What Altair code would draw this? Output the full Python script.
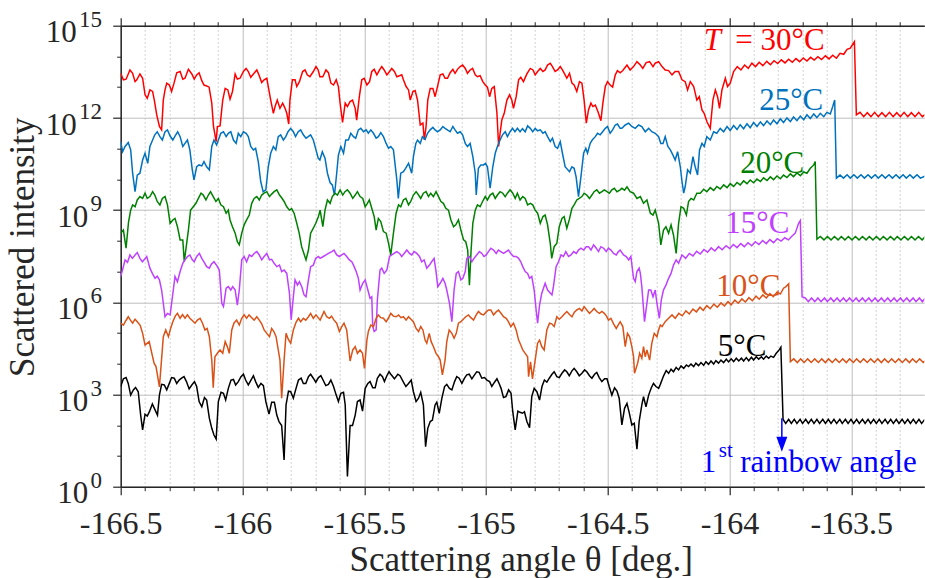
import altair as alt
import pandas as pd

# (scattering angle [deg], log10 of scattered intensity)
RED_30 = [
(-166.500,13.45),(-166.489,13.24),(-166.478,13.26),(-166.462,13.56),(-166.451,13.45),(-166.441,13.18),(-166.434,13.24),(-166.421,13.43),(-166.410,13.29),(-166.400,12.75),(-166.391,12.64),(-166.380,12.91),(-166.369,12.86),(-166.362,12.58),(-166.352,12.10),(-166.341,11.72),(-166.332,11.61),(-166.325,12.58),(-166.318,12.91),(-166.311,13.13),(-166.300,13.07),(-166.291,12.86),(-166.281,13.13),(-166.270,13.47),(-166.256,13.51),(-166.245,13.26),(-166.236,13.29),(-166.222,13.58),(-166.208,13.43),(-166.198,13.26),(-166.188,13.40),(-166.178,13.47),(-166.167,13.21),(-166.158,13.07),(-166.147,13.04),(-166.137,13.00),(-166.126,12.48),(-166.119,11.72),(-166.108,11.23),(-166.103,11.72),(-166.092,11.74),(-166.081,12.58),(-166.071,12.96),(-166.060,12.91),(-166.051,12.61),(-166.041,12.86),(-166.030,13.43),(-166.021,13.26),(-166.010,13.29),(-165.996,13.51),(-165.985,13.61),(-165.976,13.51),(-165.966,13.32),(-165.955,13.43),(-165.941,13.56),(-165.931,13.37),(-165.921,13.15),(-165.911,13.24),(-165.900,13.29),(-165.894,13.02),(-165.884,12.58),(-165.873,12.15),(-165.866,12.37),(-165.857,12.58),(-165.846,12.31),(-165.835,12.48),(-165.825,12.31),(-165.818,12.15),(-165.810,11.80),(-165.805,12.58),(-165.795,13.24),(-165.784,13.24),(-165.777,13.02),(-165.766,13.18),(-165.753,13.51),(-165.743,13.56),(-165.734,13.40),(-165.723,13.34),(-165.709,13.51),(-165.698,13.67),(-165.689,13.56),(-165.682,13.34),
(-165.670,13.34),(-165.657,13.56),(-165.647,13.47),(-165.637,13.13),(-165.626,13.07),(-165.615,13.24),(-165.606,13.02),(-165.599,12.48),(-165.589,11.85),(-165.578,12.48),(-165.569,12.37),(-165.558,12.53),(-165.548,12.58),(-165.537,12.31),(-165.531,11.93),(-165.520,12.69),(-165.510,13.24),(-165.500,13.29),(-165.489,13.07),(-165.478,13.18),(-165.469,13.51),(-165.459,13.58),(-165.448,13.40),(-165.437,13.56),(-165.428,13.67),(-165.418,13.56),(-165.407,13.40),(-165.396,13.51),(-165.387,13.61),(-165.376,13.51),(-165.366,13.34),(-165.355,13.37),(-165.346,13.40),(-165.339,13.24),(-165.328,13.02),(-165.318,12.91),(-165.311,12.58),(-165.300,12.86),(-165.291,12.89),(-165.281,12.58),(-165.270,11.77),(-165.259,11.83),(-165.253,11.28),(-165.246,11.72),(-165.239,12.58),(-165.229,12.96),(-165.218,12.96),(-165.209,12.69),(-165.199,13.02),(-165.188,13.40),(-165.177,13.43),(-165.168,13.29),(-165.158,13.29),(-165.147,13.47),(-165.136,13.58),(-165.127,13.45),(-165.117,13.58),(-165.106,13.67),(-165.096,13.72),(-165.085,13.61),(-165.076,13.45),(-165.065,13.56),(-165.055,13.61),(-165.044,13.40),(-165.035,13.34),(-165.024,13.37),(-165.013,13.18),(-165.003,13.07),(-164.994,13.00),(-164.985,12.69),(-164.976,12.96),(-164.966,13.02),(-164.955,12.15),(-164.948,11.07),(-164.942,11.50),(-164.935,11.93),(-164.925,12.15),(-164.914,12.58),(-164.903,12.75),(-164.894,12.58),(-164.887,12.31),(-164.876,12.69),(-164.866,13.24),(-164.857,13.32),(-164.846,13.18),(-164.832,13.43),(-164.818,13.61),(-164.807,13.56),(-164.798,13.40),(-164.788,13.51),(-164.777,13.61),(-164.766,13.51),(-164.757,13.56),(-164.747,13.72),(-164.736,13.78),(-164.727,13.67),(-164.716,13.51),(-164.706,13.56),(-164.695,13.67),(-164.686,13.56),(-164.675,13.40),(-164.668,13.29),(-164.657,13.45),(-164.647,13.13),(-164.638,13.07),(-164.627,12.86),(-164.616,13.18),(-164.606,13.13),(-164.597,12.58),(-164.588,11.83),(-164.579,12.26),(-164.569,12.48),(-164.561,12.37),(-164.551,12.42),(-164.540,12.20),(-164.528,11.91),(-164.520,12.48),(-164.510,13.02),(-164.501,13.18),(-164.490,13.07),(-164.480,13.00),(-164.469,13.40),(-164.460,13.54),(-164.449,13.47),
(-164.438,13.54),(-164.421,13.72),(-164.408,13.56),(-164.394,13.67),(-164.380,13.83),(-164.366,13.72),(-164.356,13.61),(-164.342,13.80),(-164.328,13.83),(-164.314,13.67),(-164.305,13.78),(-164.291,13.83),(-164.277,13.67),(-164.264,13.56),(-164.250,13.54),(-164.236,13.40),(-164.223,13.51),(-164.209,13.51),(-164.195,13.24),(-164.182,13.18),(-164.172,12.91),(-164.161,13.18),(-164.147,13.02),(-164.134,12.58),(-164.124,12.69),(-164.113,12.26),(-164.104,12.15),(-164.093,11.88),(-164.079,11.66),(-164.068,12.58),(-164.058,12.91),(-164.049,12.69),(-164.041,12.31),(-164.031,12.91),(-164.017,13.29),(-164.008,13.02),(-163.997,13.13),(-163.983,13.51),
(-163.968,13.67),(-163.953,13.56),(-163.938,13.72),(-163.923,13.61),(-163.908,13.78),(-163.893,13.67),(-163.878,13.81),(-163.863,13.70),(-163.847,13.84),(-163.832,13.73),(-163.817,13.86),(-163.802,13.77),(-163.787,13.89),(-163.772,13.79),(-163.757,13.91),(-163.742,13.81),(-163.727,13.93),(-163.712,13.83),(-163.697,13.95),(-163.682,13.85),(-163.667,13.97),(-163.652,13.88),(-163.637,13.99),(-163.622,13.90),(-163.606,14.02),(-163.591,13.92),(-163.576,14.04),(-163.561,13.94),(-163.546,14.10),(-163.531,14.07),(-163.517,14.23),(-163.504,14.27),(-163.487,14.48),
(-163.479,12.10),(-163.464,12.18),(-163.449,12.04),(-163.434,12.17),(-163.419,12.04),(-163.404,12.18),(-163.389,12.04),(-163.374,12.17),(-163.359,12.04),(-163.343,12.18),(-163.328,12.04),(-163.313,12.17),(-163.298,12.04),(-163.283,12.18),(-163.268,12.04),(-163.253,12.17),(-163.238,12.04),(-163.223,12.18),(-163.208,12.04),(-163.196,12.12)]

BLUE_25 = [
(-166.500,11.23),(-166.492,10.90),(-166.482,11.07),(-166.469,11.20),(-166.459,10.96),(-166.451,10.20),(-166.441,9.60),(-166.432,10.14),(-166.421,10.20),(-166.410,10.63),(-166.400,10.85),(-166.389,10.52),(-166.380,11.07),(-166.369,11.28),(-166.360,11.45),(-166.350,11.55),(-166.339,11.39),(-166.329,11.28),(-166.318,11.55),(-166.308,11.61),(-166.297,11.41),(-166.286,11.28),(-166.277,11.41),(-166.266,11.55),(-166.256,11.39),(-166.245,11.07),(-166.236,11.17),(-166.226,11.28),(-166.216,10.96),(-166.206,10.31),(-166.199,9.98),(-166.188,10.41),(-166.178,10.47),(-166.167,10.44),(-166.158,10.58),(-166.147,10.41),(-166.136,10.31),(-166.126,11.07),(-166.117,11.28),(-166.106,11.12),(-166.099,11.28),(-166.089,11.50),(-166.078,11.55),(-166.067,11.39),(-166.058,11.50),(-166.048,11.55),(-166.037,11.28),(-166.026,11.17),(-166.017,11.50),(-166.007,11.39),(-165.996,11.55),(-165.985,11.50),(-165.976,11.39),(-165.966,11.07),(-165.955,10.96),(-165.946,11.01),(-165.935,10.58),(-165.925,9.93),(-165.915,9.60),(-165.904,9.66),(-165.894,10.41),(-165.884,10.85),(-165.873,11.07),(-165.863,10.96),(-165.853,11.39),(-165.843,11.45),(-165.832,11.28),(-165.822,11.39),(-165.813,11.55),(-165.802,11.66),(-165.791,11.55),(-165.782,11.39),(-165.771,11.55),(-165.761,11.61),(-165.750,11.45),(-165.739,11.34),(-165.730,11.39),(-165.720,11.45),(-165.709,11.28),(-165.698,10.96),(-165.689,10.69),(-165.682,10.63),
(-165.672,10.90),(-165.661,10.69),(-165.651,10.20),(-165.640,9.89),(-165.631,9.82),(-165.622,9.49),(-165.613,10.20),(-165.606,10.79),(-165.596,11.07),(-165.585,10.85),(-165.576,11.28),(-165.565,11.28),(-165.555,11.50),(-165.544,11.39),(-165.535,11.34),(-165.524,11.61),(-165.514,11.66),(-165.503,11.55),(-165.492,11.61),(-165.483,11.50),(-165.473,11.61),(-165.462,11.50),(-165.451,11.34),(-165.442,11.39),(-165.432,11.52),(-165.421,11.39),(-165.410,11.17),(-165.400,11.01),(-165.391,11.07),(-165.380,10.96),(-165.366,9.98),(-165.360,9.38),(-165.350,10.20),(-165.339,10.25),(-165.330,10.36),(-165.318,10.52),(-165.305,10.20),(-165.298,10.74),(-165.288,11.17),(-165.281,11.28),(-165.270,11.17),(-165.261,11.39),(-165.250,11.30),(-165.240,11.50),(-165.229,11.61),(-165.218,11.69),(-165.209,11.61),(-165.199,11.55),(-165.188,11.61),(-165.177,11.72),(-165.168,11.66),(-165.157,11.60),(-165.147,11.55),(-165.136,11.72),(-165.127,11.61),(-165.117,11.50),(-165.106,11.55),(-165.096,11.45),(-165.085,11.17),(-165.076,11.07),(-165.065,11.17),(-165.054,10.74),(-165.044,10.20),(-165.040,9.49),(-165.031,10.36),(-165.021,10.47),(-165.010,10.47),(-165.002,10.52),(-164.994,10.41),(-164.983,9.71),(-164.972,10.41),(-164.962,10.85),(-164.953,11.07),(-164.942,11.28),(-164.932,11.45),(-164.921,11.55),(-164.912,11.39),(-164.901,11.55),(-164.891,11.66),(-164.881,11.55),(-164.871,11.66),(-164.860,11.55),(-164.850,11.65),(-164.839,11.55),(-164.829,11.74),(-164.818,11.66),(-164.808,11.55),(-164.798,11.66),(-164.788,11.58),(-164.777,11.61),(-164.766,11.50),(-164.757,11.55),(-164.747,11.39),(-164.736,11.23),(-164.727,11.34),(-164.716,11.07),(-164.706,11.01),(-164.695,11.23),(-164.686,10.85),(-164.675,10.41),(-164.657,10.25),(-164.647,10.41),(-164.638,10.36),(-164.630,10.09),(-164.620,9.44),(-164.610,10.09),(-164.599,10.85),(-164.590,11.01),(-164.583,10.85),(-164.572,11.17),(-164.562,11.30),(-164.551,11.39),(-164.542,11.50),(-164.531,11.45),(-164.521,11.55),(-164.510,11.66),(-164.501,11.72),(-164.490,11.50),(-164.480,11.61),(-164.469,11.77),(-164.460,11.80),(-164.449,11.66),
(-164.442,11.66),(-164.428,11.77),(-164.414,11.83),(-164.401,11.72),(-164.387,11.66),(-164.373,11.77),(-164.360,11.72),(-164.346,11.55),(-164.332,11.66),(-164.319,11.55),(-164.305,11.50),(-164.291,11.39),(-164.282,11.17),(-164.273,11.17),(-164.264,11.39),(-164.253,11.07),(-164.243,10.96),(-164.232,10.79),(-164.223,10.63),(-164.213,10.90),(-164.202,10.41),(-164.195,9.93),(-164.188,9.55),(-164.182,9.76),(-164.172,10.31),(-164.161,10.20),(-164.150,10.74),(-164.141,10.41),(-164.131,10.14),(-164.123,10.96),(-164.113,11.17),(-164.104,11.07),(-164.093,11.39),(-164.079,11.28),(-164.065,11.55),(-164.052,11.50),(-164.038,11.66),
(-164.024,11.55),(-164.010,11.72),(-163.997,11.59),(-163.983,11.75),(-163.969,11.62),(-163.956,11.78),(-163.942,11.65),(-163.928,11.81),(-163.915,11.68),(-163.901,11.85),(-163.887,11.72),(-163.873,11.87),(-163.860,11.75),(-163.846,11.90),(-163.832,11.78),(-163.819,11.93),(-163.805,11.81),(-163.791,11.97),(-163.778,11.85),(-163.764,12.00),(-163.750,11.88),(-163.737,12.03),(-163.723,11.91),(-163.709,12.06),(-163.695,11.94),(-163.682,12.10),(-163.668,11.98),(-163.654,12.13),(-163.641,12.01),(-163.627,12.15),(-163.613,12.04),(-163.600,12.18),(-163.586,12.13),(-163.576,12.37),(-163.568,12.58),
(-163.561,10.04),(-163.546,10.14),(-163.532,10.04),(-163.517,10.15),(-163.504,10.04),(-163.489,10.15),(-163.475,10.04),(-163.460,10.15),(-163.446,10.04),(-163.431,10.15),(-163.417,10.04),(-163.402,10.15),(-163.389,10.04),(-163.374,10.15),(-163.360,10.04),(-163.345,10.15),(-163.331,10.04),(-163.316,10.15),(-163.302,10.04),(-163.287,10.15),(-163.274,10.04),(-163.259,10.15),(-163.245,10.04),(-163.230,10.15),(-163.216,10.04),(-163.196,10.11)]

GREEN_20 = [
(-166.500,8.25),(-166.489,8.35),(-166.478,7.76),(-166.468,8.60),(-166.459,9.00),(-166.451,9.17),(-166.441,9.11),(-166.432,9.33),(-166.421,9.44),(-166.410,9.38),(-166.400,9.55),(-166.391,9.38),(-166.380,9.44),(-166.369,9.60),(-166.360,9.49),(-166.350,9.28),(-166.339,9.17),(-166.329,9.38),(-166.318,9.44),(-166.308,9.17),(-166.297,8.57),(-166.286,8.68),(-166.277,8.73),(-166.267,8.46),(-166.256,8.03),(-166.245,8.03),(-166.239,7.32),(-166.222,8.35),(-166.213,9.00),(-166.202,9.11),(-166.191,9.22),(-166.181,9.38),(-166.170,9.55),(-166.161,9.49),(-166.150,9.33),(-166.140,9.49),(-166.131,9.60),(-166.120,9.44),(-166.109,9.28),(-166.099,9.38),(-166.089,9.17),(-166.078,9.11),(-166.067,8.90),(-166.058,9.00),(-166.051,8.68),(-166.041,8.46),(-166.030,8.25),(-166.021,7.97),(-166.013,7.87),(-166.003,8.25),(-165.993,8.52),(-165.983,8.68),(-165.972,8.84),(-165.962,9.22),(-165.952,9.38),(-165.941,9.44),(-165.931,9.33),(-165.921,9.49),(-165.911,9.55),(-165.900,9.60),(-165.889,9.44),(-165.880,9.52),(-165.870,9.60),(-165.859,9.66),(-165.848,9.49),(-165.839,9.40),(-165.829,9.28),(-165.818,9.11),(-165.807,9.00),(-165.798,9.05),(-165.788,8.90),(-165.777,8.57),(-165.767,8.25),(-165.757,7.81),(-165.739,7.38),(-165.729,7.70),(-165.720,8.25),(-165.709,8.41),(-165.699,8.57),(-165.688,8.79),(-165.681,9.00),
(-165.670,8.46),(-165.661,9.00),(-165.651,9.33),(-165.640,9.22),(-165.631,9.44),(-165.620,9.55),(-165.610,9.49),(-165.599,9.66),(-165.588,9.49),(-165.579,9.60),(-165.569,9.66),(-165.558,9.55),(-165.547,9.38),(-165.537,9.49),(-165.528,9.60),(-165.517,9.44),(-165.506,9.38),(-165.496,9.11),(-165.487,9.22),(-165.479,9.33),(-165.469,9.06),(-165.459,8.79),(-165.451,8.35),(-165.442,8.73),(-165.432,8.63),(-165.421,8.30),(-165.410,8.25),(-165.400,7.92),(-165.391,7.54),(-165.380,8.25),(-165.369,8.90),(-165.359,9.17),(-165.350,9.11),(-165.339,9.33),(-165.329,9.38),(-165.318,9.17),(-165.309,9.28),(-165.298,9.49),(-165.287,9.60),(-165.277,9.49),(-165.268,9.38),(-165.257,9.55),(-165.246,9.60),(-165.236,9.44),(-165.227,9.55),(-165.216,9.44),(-165.205,9.60),(-165.195,9.44),(-165.185,9.28),(-165.175,9.22),(-165.165,9.06),(-165.154,9.00),(-165.144,8.68),(-165.133,8.46),(-165.124,8.52),(-165.113,8.68),(-165.103,8.35),(-165.092,8.03),(-165.083,7.97),(-165.075,7.70),(-165.068,6.56),(-165.061,7.70),(-165.054,8.57),(-165.044,9.00),(-165.035,9.17),(-165.024,9.11),(-165.014,9.28),(-165.003,9.44),(-164.994,9.33),(-164.983,9.49),(-164.972,9.55),(-164.962,9.38),(-164.953,9.49),(-164.942,9.60),(-164.931,9.55),(-164.921,9.44),(-164.912,9.55),(-164.901,9.66),(-164.890,9.55),(-164.880,9.38),(-164.871,9.55),(-164.860,9.33),(-164.849,9.44),(-164.839,9.38),(-164.829,9.17),(-164.818,9.22),(-164.808,9.17),(-164.798,9.00),(-164.788,8.90),(-164.777,8.57),(-164.766,8.79),(-164.757,8.84),(-164.747,8.52),(-164.736,7.92),(-164.730,7.43),(-164.720,7.81),(-164.709,7.92),(-164.699,8.46),(-164.688,8.73),(-164.679,8.79),(-164.668,8.41),(-164.658,8.68),(-164.647,9.06),(-164.638,9.17),(-164.627,9.33),(-164.617,9.38),(-164.606,9.44),(-164.597,9.55),(-164.586,9.49),(-164.575,9.38),(-164.565,9.49),(-164.556,9.60),(-164.545,9.66),(-164.534,9.55),(-164.524,9.60),(-164.514,9.66),(-164.503,9.60),(-164.493,9.55),(-164.483,9.66),(-164.473,9.71),(-164.462,9.60),(-164.449,9.66),
(-164.442,9.71),(-164.431,9.65),(-164.421,9.76),(-164.408,9.60),(-164.394,9.55),(-164.380,9.38),(-164.366,9.44),(-164.353,9.22),(-164.339,9.33),(-164.325,8.90),(-164.314,8.84),(-164.305,9.00),(-164.291,8.57),(-164.282,7.87),(-164.271,8.35),(-164.261,8.46),(-164.250,8.25),(-164.240,8.52),(-164.230,8.19),(-164.219,7.59),(-164.209,8.57),(-164.199,9.11),(-164.188,9.06),(-164.177,8.84),(-164.168,9.28),(-164.158,9.38),(-164.147,9.33),(-164.134,9.55),
(-164.120,9.55),(-164.106,9.68),(-164.093,9.60),(-164.079,9.73),(-164.065,9.64),(-164.052,9.77),(-164.038,9.69),(-164.024,9.82),(-164.010,9.73),(-163.997,9.86),(-163.983,9.77),(-163.969,9.90),(-163.956,9.82),(-163.942,9.95),(-163.928,9.86),(-163.915,9.98),(-163.901,9.89),(-163.887,10.01),(-163.873,9.93),(-163.860,10.05),(-163.846,9.96),(-163.832,10.08),(-163.819,9.99),(-163.805,10.11),(-163.791,10.02),(-163.778,10.14),(-163.764,10.06),(-163.750,10.18),(-163.737,10.09),(-163.723,10.21),(-163.709,10.12),(-163.695,10.24),(-163.682,10.20),(-163.668,10.36),(-163.654,10.47),(-163.648,10.58),
(-163.641,8.05),(-163.627,8.14),(-163.612,8.03),(-163.598,8.14),(-163.583,8.03),(-163.569,8.14),(-163.554,8.03),(-163.541,8.14),(-163.526,8.03),(-163.512,8.14),(-163.497,8.03),(-163.483,8.14),(-163.468,8.03),(-163.454,8.14),(-163.439,8.03),(-163.426,8.14),(-163.411,8.03),(-163.397,8.14),(-163.382,8.03),(-163.368,8.14),(-163.353,8.03),(-163.339,8.14),(-163.324,8.03),(-163.311,8.14),(-163.296,8.03),(-163.282,8.14),(-163.267,8.03),(-163.253,8.14),(-163.238,8.03),(-163.224,8.14),(-163.209,8.03),(-163.196,8.14)]

PURPLE_15 = [
(-166.500,6.84),(-166.491,7.10),(-166.482,7.38),(-166.472,7.30),(-166.462,7.54),(-166.452,7.43),(-166.441,7.54),(-166.432,7.62),(-166.421,7.43),(-166.411,7.32),(-166.402,7.40),(-166.393,7.49),(-166.380,7.11),(-166.370,6.94),(-166.359,6.78),(-166.350,6.85),(-166.341,6.73),(-166.332,6.40),(-166.325,5.97),(-166.318,5.53),(-166.308,5.64),(-166.297,5.59),(-166.284,6.40),(-166.277,6.84),(-166.267,6.67),(-166.256,7.00),(-166.245,7.27),(-166.236,7.38),(-166.226,7.49),(-166.216,7.54),(-166.206,7.38),(-166.198,7.32),(-166.188,7.49),(-166.177,7.59),(-166.167,7.43),(-166.157,7.30),(-166.147,7.16),(-166.136,7.11),(-166.127,7.25),(-166.117,7.32),(-166.106,7.20),(-166.095,7.05),(-166.085,5.97),(-166.078,5.86),(-166.067,6.46),(-166.058,6.51),(-166.048,6.40),(-166.040,6.51),(-166.030,6.40),(-166.021,5.91),(-166.013,6.40),(-166.003,7.38),(-165.993,7.49),(-165.983,7.32),(-165.972,7.54),(-165.962,7.49),(-165.952,7.59),(-165.941,7.65),(-165.931,7.54),(-165.921,7.38),(-165.911,7.49),(-165.900,7.59),(-165.889,7.38),(-165.880,7.40),(-165.870,7.27),(-165.859,7.16),(-165.848,7.21),(-165.839,7.00),(-165.829,7.05),(-165.818,6.94),(-165.807,6.29),(-165.800,5.43),(-165.791,6.18),(-165.784,6.73),(-165.774,6.56),(-165.766,6.67),(-165.756,6.50),(-165.747,6.24),(-165.739,6.18),(-165.729,6.73),(-165.720,7.16),(-165.709,7.21),(-165.699,7.43),(-165.688,7.49),(-165.681,7.43),
(-165.668,7.49),(-165.657,7.54),(-165.647,7.59),(-165.633,7.65),(-165.624,7.70),(-165.613,7.54),(-165.602,7.49),(-165.592,7.54),(-165.583,7.59),(-165.572,7.49),(-165.561,7.38),(-165.551,7.32),(-165.544,7.21),(-165.533,7.00),(-165.524,6.78),(-165.517,6.40),(-165.506,6.62),(-165.496,6.73),(-165.485,6.40),(-165.476,6.13),(-165.469,6.18),(-165.465,5.21),(-165.459,5.05),(-165.451,5.10),(-165.446,6.08),(-165.435,7.05),(-165.428,7.11),(-165.418,6.94),(-165.407,7.05),(-165.396,7.49),(-165.387,7.54),(-165.376,7.60),(-165.366,7.65),(-165.355,7.59),(-165.346,7.49),(-165.336,7.59),(-165.325,7.70),(-165.314,7.59),(-165.305,7.54),(-165.295,7.65),(-165.284,7.59),(-165.273,7.49),(-165.264,7.32),(-165.254,7.38),(-165.243,7.11),(-165.232,7.21),(-165.223,7.32),(-165.213,7.43),(-165.205,7.00),(-165.198,6.51),(-165.188,6.62),(-165.177,6.78),(-165.168,6.62),(-165.161,6.40),(-165.150,5.97),(-165.140,5.37),(-165.131,6.40),(-165.122,6.94),(-165.113,7.00),(-165.103,6.73),(-165.095,6.78),(-165.085,7.00),(-165.079,7.43),(-165.068,7.49),(-165.058,7.32),(-165.049,7.43),(-165.038,7.54),(-165.027,7.65),(-165.017,7.59),(-165.008,7.49),(-164.999,7.54),(-164.990,7.65),(-164.980,7.76),(-164.969,7.70),(-164.958,7.59),(-164.949,7.70),(-164.939,7.65),(-164.928,7.59),(-164.917,7.65),(-164.908,7.70),(-164.898,7.59),(-164.887,7.49),(-164.876,7.49),(-164.866,7.43),(-164.857,7.32),(-164.849,7.16),(-164.839,7.00),(-164.829,6.94),(-164.821,6.78),(-164.812,6.84),(-164.802,6.40),(-164.794,5.75),(-164.788,5.32),(-164.780,5.91),(-164.771,6.29),(-164.757,6.62),(-164.747,6.40),(-164.729,6.24),(-164.723,6.51),(-164.712,7.16),(-164.702,7.32),(-164.692,7.54),(-164.682,7.49),(-164.672,7.65),(-164.661,7.49),(-164.651,7.54),(-164.640,7.65),(-164.629,7.59),(-164.620,7.70),(-164.610,7.76),(-164.599,7.70),(-164.588,7.81),(-164.579,7.81),(-164.569,7.70),(-164.558,7.87),(-164.547,7.76),(-164.538,7.65),(-164.528,7.81),(-164.517,7.76),(-164.506,7.65),(-164.497,7.76),(-164.487,7.70),(-164.476,7.59),(-164.465,7.54),(-164.456,7.65),(-164.449,7.70),
(-164.435,7.54),(-164.424,7.49),(-164.414,7.38),(-164.405,7.49),(-164.394,6.78),(-164.387,6.67),(-164.380,7.00),(-164.371,7.11),(-164.366,6.94),(-164.360,6.51),(-164.349,5.37),(-164.339,5.97),(-164.332,6.40),(-164.323,6.40),(-164.314,6.18),(-164.305,6.40),(-164.298,5.97),(-164.288,5.48),(-164.280,6.08),(-164.271,6.40),(-164.261,6.56),(-164.250,6.78),(-164.240,6.94),(-164.230,7.21),(-164.219,7.38),(-164.209,7.27),
(-164.195,7.54),(-164.180,7.43),(-164.165,7.59),(-164.150,7.51),(-164.135,7.66),(-164.120,7.57),(-164.105,7.72),(-164.090,7.63),(-164.075,7.77),(-164.060,7.67),(-164.045,7.81),(-164.030,7.71),(-164.014,7.84),(-163.999,7.75),(-163.984,7.88),(-163.969,7.78),(-163.954,7.91),(-163.939,7.81),(-163.924,7.94),(-163.909,7.84),(-163.894,7.97),(-163.879,7.88),(-163.864,8.01),(-163.849,7.91),(-163.834,8.04),(-163.819,7.94),(-163.804,8.07),(-163.788,7.99),(-163.773,8.10),(-163.758,8.03),(-163.743,8.16),(-163.730,8.25),(-163.716,8.57),(-163.709,8.66),
(-163.702,6.18),(-163.689,6.14),(-163.676,6.02),(-163.663,6.14),(-163.650,6.02),(-163.637,6.14),(-163.624,6.02),(-163.610,6.14),(-163.598,6.02),(-163.584,6.14),(-163.572,6.02),(-163.558,6.14),(-163.546,6.02),(-163.532,6.14),(-163.520,6.02),(-163.507,6.14),(-163.494,6.02),(-163.480,6.14),(-163.468,6.02),(-163.454,6.14),(-163.442,6.02),(-163.428,6.14),(-163.416,6.02),(-163.402,6.14),(-163.390,6.02),(-163.376,6.14),(-163.364,6.02),(-163.350,6.14),(-163.338,6.02),(-163.324,6.14),(-163.312,6.02),(-163.298,6.14),(-163.286,6.02),(-163.272,6.14),(-163.260,6.02),(-163.246,6.14),(-163.234,6.02),(-163.220,6.14),(-163.208,6.02),(-163.196,6.14)]

ORANGE_10 = [
(-166.500,5.32),(-166.489,5.26),(-166.479,5.40),(-166.469,5.53),(-166.460,5.42),(-166.451,5.32),(-166.441,5.45),(-166.432,5.37),(-166.420,5.25),(-166.410,4.99),(-166.400,4.61),(-166.383,4.72),(-166.363,4.02),(-166.355,3.91),(-166.341,3.25),(-166.325,4.88),(-166.315,5.10),(-166.304,4.88),(-166.295,5.15),(-166.286,5.37),(-166.276,5.55),(-166.267,5.64),(-166.256,5.48),(-166.246,5.60),(-166.236,5.48),(-166.226,5.59),(-166.216,5.48),(-166.205,5.40),(-166.195,5.32),(-166.185,5.42),(-166.174,5.48),(-166.164,5.32),(-166.154,5.10),(-166.145,5.15),(-166.136,4.88),(-166.126,4.12),(-166.120,3.22),(-166.113,4.23),(-166.103,4.34),(-166.092,4.45),(-166.081,4.34),(-166.071,4.72),(-166.062,4.55),(-166.054,4.34),(-166.044,5.10),(-166.035,5.32),(-166.024,5.42),(-166.013,5.26),(-166.003,5.48),(-165.993,5.59),(-165.983,5.48),(-165.973,5.59),(-165.962,5.50),(-165.952,5.42),(-165.941,5.53),(-165.931,5.42),(-165.921,5.30),(-165.911,5.10),(-165.900,4.99),(-165.889,4.88),(-165.880,5.15),(-165.871,5.05),(-165.862,4.88),(-165.846,4.12),(-165.839,2.88),(-165.829,4.12),(-165.821,4.99),(-165.812,4.80),(-165.802,4.67),(-165.791,5.10),(-165.780,5.35),(-165.770,5.48),(-165.761,5.37),(-165.750,5.48),(-165.740,5.42),(-165.729,5.53),(-165.720,5.64),(-165.709,5.48),(-165.698,5.59),(-165.681,5.42),
(-165.665,5.70),(-165.654,5.53),(-165.643,5.48),(-165.634,5.55),(-165.624,5.42),(-165.613,5.32),(-165.602,5.05),(-165.592,5.21),(-165.583,5.32),(-165.572,5.10),(-165.558,4.09),(-165.547,4.45),(-165.537,4.56),(-165.528,4.34),(-165.517,4.45),(-165.507,4.34),(-165.499,3.85),(-165.489,4.77),(-165.483,5.05),(-165.473,5.26),(-165.462,5.21),(-165.451,5.48),(-165.442,5.59),(-165.432,5.50),(-165.421,5.48),(-165.410,5.37),(-165.401,5.48),(-165.391,5.64),(-165.380,5.55),(-165.369,5.53),(-165.359,5.59),(-165.349,5.50),(-165.339,5.53),(-165.328,5.42),(-165.318,5.53),(-165.308,5.45),(-165.298,5.37),(-165.287,5.15),(-165.277,5.05),(-165.268,5.21),(-165.259,5.10),(-165.250,4.77),(-165.243,4.67),(-165.233,4.99),(-165.225,4.72),(-165.216,4.56),(-165.205,4.34),(-165.195,4.23),(-165.188,4.12),(-165.179,3.64),(-165.168,4.12),(-165.161,4.72),(-165.151,5.10),(-165.140,4.99),(-165.131,4.83),(-165.122,4.99),(-165.113,5.32),(-165.103,5.37),(-165.093,5.45),(-165.083,5.53),(-165.072,5.59),(-165.062,5.50),(-165.051,5.42),(-165.040,5.59),(-165.031,5.70),(-165.020,5.62),(-165.010,5.59),(-165.000,5.68),(-164.990,5.75),(-164.980,5.75),(-164.969,5.59),(-164.959,5.68),(-164.949,5.75),(-164.939,5.65),(-164.928,5.53),(-164.917,5.48),(-164.908,5.37),(-164.898,5.21),(-164.887,5.32),(-164.876,5.10),(-164.866,4.77),(-164.857,4.61),(-164.849,4.45),(-164.839,4.34),(-164.829,4.23),(-164.825,3.58),(-164.817,4.06),(-164.809,3.51),(-164.798,4.12),(-164.788,4.67),(-164.780,4.77),(-164.771,4.56),(-164.761,4.45),(-164.750,5.10),(-164.739,5.32),(-164.730,5.30),(-164.720,5.21),(-164.709,5.53),(-164.699,5.45),(-164.688,5.53),(-164.678,5.62),(-164.668,5.70),(-164.657,5.60),(-164.647,5.53),(-164.637,5.68),(-164.627,5.75),(-164.616,5.80),(-164.606,5.72),(-164.597,5.86),(-164.586,5.75),(-164.575,5.64),(-164.565,5.72),(-164.556,5.80),(-164.545,5.70),(-164.534,5.64),(-164.524,5.70),(-164.514,5.64),(-164.505,5.55),(-164.497,5.42),(-164.487,5.48),(-164.476,5.30),(-164.465,5.15),(-164.449,5.37),
(-164.438,5.21),(-164.428,4.56),(-164.419,4.99),(-164.410,4.88),(-164.401,4.56),(-164.394,4.23),(-164.390,3.69),(-164.377,4.02),(-164.369,4.34),(-164.360,4.18),(-164.353,4.56),(-164.346,4.23),(-164.339,4.45),(-164.328,4.12),(-164.319,4.67),(-164.309,4.99),(-164.298,4.88),(-164.291,5.10),(-164.284,5.26),(-164.277,5.21),(-164.264,5.37),(-164.250,5.48),(-164.236,5.59),
(-164.223,5.48),(-164.208,5.64),(-164.194,5.56),(-164.179,5.72),(-164.165,5.62),(-164.150,5.78),(-164.136,5.69),(-164.121,5.84),(-164.108,5.74),(-164.093,5.89),(-164.079,5.79),(-164.064,5.94),(-164.050,5.84),(-164.035,5.98),(-164.021,5.88),(-164.006,6.02),(-163.993,5.92),(-163.978,6.07),(-163.964,5.97),(-163.949,6.11),(-163.935,6.01),(-163.920,6.15),(-163.906,6.05),(-163.891,6.20),(-163.878,6.10),(-163.863,6.24),(-163.849,6.14),(-163.834,6.28),(-163.820,6.18),(-163.805,6.33),(-163.791,6.27),(-163.778,6.46),(-163.768,6.51),(-163.757,6.60),
(-163.750,4.07),(-163.736,4.16),(-163.721,4.04),(-163.708,4.16),(-163.693,4.04),(-163.679,4.16),(-163.664,4.04),(-163.650,4.16),(-163.635,4.04),(-163.621,4.16),(-163.606,4.04),(-163.593,4.16),(-163.578,4.04),(-163.564,4.16),(-163.549,4.04),(-163.535,4.16),(-163.520,4.04),(-163.507,4.16),(-163.491,4.04),(-163.478,4.16),(-163.463,4.04),(-163.449,4.16),(-163.434,4.04),(-163.420,4.16),(-163.405,4.04),(-163.391,4.16),(-163.376,4.04),(-163.363,4.16),(-163.348,4.04),(-163.334,4.16),(-163.319,4.04),(-163.305,4.16),(-163.290,4.04),(-163.276,4.16),(-163.261,4.04),(-163.248,4.16),(-163.233,4.04),(-163.219,4.16),(-163.204,4.04),(-163.196,4.10)]

BLACK_5 = [
(-166.500,3.26),(-166.489,3.51),(-166.478,3.55),(-166.469,3.36),(-166.459,2.98),(-166.448,3.15),(-166.439,3.23),(-166.428,3.09),(-166.418,2.33),(-166.410,1.85),(-166.400,2.36),(-166.391,2.30),(-166.382,2.44),(-166.370,2.69),(-166.359,2.50),(-166.349,2.33),(-166.341,2.98),(-166.332,3.33),(-166.321,3.31),(-166.311,3.15),(-166.302,3.33),(-166.291,3.55),(-166.280,3.53),(-166.270,3.36),(-166.260,3.47),(-166.250,3.53),(-166.240,3.58),(-166.230,3.42),(-166.219,3.18),(-166.208,3.31),(-166.197,3.42),(-166.188,3.26),(-166.178,2.77),(-166.167,2.60),(-166.156,2.90),(-166.147,2.82),(-166.136,2.23),(-166.126,1.90),(-166.117,1.68),(-166.108,1.55),(-166.099,2.77),(-166.088,3.07),(-166.078,3.04),(-166.069,2.82),(-166.058,3.20),(-166.047,3.47),(-166.037,3.49),(-166.028,3.31),(-166.017,3.42),(-166.006,3.58),(-165.996,3.66),(-165.987,3.47),(-165.976,3.31),(-165.965,3.47),(-165.955,3.61),(-165.946,3.42),(-165.935,3.23),(-165.924,3.36),(-165.914,3.29),(-165.904,2.77),(-165.891,2.36),(-165.880,2.75),(-165.869,2.75),(-165.859,2.33),(-165.850,2.12),(-165.839,1.99),(-165.829,0.87),(-165.821,2.66),(-165.811,3.11),(-165.802,3.09),(-165.791,2.88),(-165.780,3.20),(-165.770,3.47),(-165.759,3.53),(-165.750,3.36),(-165.740,3.36),(-165.729,3.58),(-165.720,3.66),(-165.709,3.53),(-165.699,3.40),(-165.688,3.55),(-165.678,3.61),(-165.667,3.44),(-165.658,3.29),(-165.647,3.33),(-165.637,3.47),(-165.626,3.26),(-165.615,2.98),(-165.606,2.77),(-165.596,3.04),(-165.585,3.07),(-165.578,2.66),(-165.569,0.33),(-165.558,1.99),(-165.548,1.99),(-165.537,2.33),(-165.528,2.77),(-165.517,2.82),(-165.507,2.46),(-165.496,3.20),(-165.485,3.36),(-165.476,3.42),(-165.465,3.22),(-165.455,3.22),(-165.446,3.53),(-165.435,3.66),(-165.425,3.58),(-165.417,3.42),(-165.407,3.61),(-165.398,3.74),
(-165.389,3.64),(-165.376,3.51),(-165.362,3.66),(-165.353,3.61),(-165.339,3.40),(-165.329,3.26),(-165.318,3.36),(-165.307,3.47),(-165.298,3.09),(-165.287,2.77),(-165.277,2.88),(-165.268,3.07),(-165.257,2.66),(-165.248,1.30),(-165.239,1.90),(-165.229,2.12),(-165.220,2.17),(-165.209,2.66),(-165.202,2.75),(-165.192,2.39),(-165.181,2.88),(-165.170,3.26),(-165.161,3.33),(-165.150,3.20),(-165.140,3.15),(-165.129,3.42),(-165.120,3.58),(-165.110,3.53),(-165.099,3.36),(-165.088,3.53),(-165.079,3.64),(-165.069,3.66),(-165.058,3.51),(-165.047,3.64),(-165.038,3.74),(-165.028,3.72),(-165.017,3.53),(-165.006,3.55),(-164.996,3.47),(-164.985,3.42),(-164.976,3.26),(-164.965,3.40),(-164.955,3.51),(-164.946,3.36),(-164.938,3.20),(-164.928,2.90),(-164.918,2.93),(-164.907,3.15),(-164.897,3.04),(-164.890,2.44),(-164.880,1.85),(-164.869,2.46),(-164.860,2.42),(-164.850,2.39),(-164.842,2.44),(-164.832,2.12),(-164.821,1.92),(-164.812,2.93),(-164.802,3.20),(-164.791,3.09),(-164.780,2.82),(-164.770,3.26),(-164.760,3.47),(-164.750,3.40),(-164.740,3.53),(-164.729,3.66),(-164.720,3.74),(-164.709,3.58),(-164.699,3.55),(-164.688,3.69),(-164.677,3.80),(-164.668,3.74),(-164.658,3.61),(-164.647,3.77),(-164.638,3.85),(-164.627,3.74),(-164.617,3.61),(-164.606,3.69),(-164.595,3.80),(-164.586,3.74),(-164.575,3.61),(-164.565,3.53),(-164.554,3.66),(-164.545,3.72),(-164.535,3.55),(-164.524,3.42),(-164.513,3.51),(-164.503,3.51),(-164.494,3.26),(-164.483,2.98),(-164.472,3.22),(-164.462,3.11),(-164.453,2.88),(-164.442,2.01),(-164.431,2.55),(-164.421,2.71),(-164.412,2.42),(-164.401,2.01),(-164.391,2.06),(-164.380,1.22),(-164.371,2.12),(-164.360,2.66),(-164.353,2.93),(-164.343,2.60),(-164.332,2.98),(-164.321,3.22),(-164.312,3.36),(-164.302,3.26),(-164.291,3.20),(-164.284,3.33),
(-164.271,3.60),(-164.260,3.78),(-164.250,3.69),(-164.240,3.82),(-164.230,3.74),(-164.219,3.88),(-164.209,3.80),(-164.199,3.93),(-164.188,3.85),(-164.177,3.96),(-164.168,3.91),(-164.158,3.99),(-164.147,3.91),(-164.138,4.02),(-164.127,3.94),(-164.117,4.04),(-164.106,3.95),(-164.097,4.07),(-164.086,3.98),(-164.076,4.09),(-164.065,3.99),(-164.056,4.10),(-164.045,4.02),(-164.035,4.12),(-164.024,4.04),(-164.013,4.15),(-164.004,4.06),(-163.993,4.16),(-163.983,4.07),(-163.972,4.18),(-163.962,4.09),(-163.951,4.18),(-163.942,4.09),(-163.931,4.20),(-163.921,4.10),(-163.910,4.21),(-163.901,4.12),(-163.890,4.23),(-163.880,4.15),(-163.869,4.23),(-163.860,4.15),(-163.849,4.25),(-163.839,4.18),(-163.830,4.25),(-163.819,4.21),(-163.808,4.34),(-163.798,4.43),(-163.789,4.54),
(-163.780,2.19),(-163.769,2.06),(-163.757,2.19),(-163.746,2.06),(-163.734,2.19),(-163.723,2.06),(-163.710,2.19),(-163.700,2.06),(-163.687,2.19),(-163.676,2.06),(-163.664,2.19),(-163.653,2.06),(-163.641,2.19),(-163.630,2.06),(-163.617,2.19),(-163.606,2.06),(-163.594,2.19),(-163.583,2.06),(-163.571,2.19),(-163.560,2.06),(-163.547,2.19),(-163.537,2.06),(-163.524,2.19),(-163.513,2.06),(-163.501,2.19),(-163.490,2.06),(-163.478,2.19),(-163.467,2.06),(-163.454,2.19),(-163.443,2.06),(-163.431,2.19),(-163.420,2.06),(-163.408,2.19),(-163.397,2.06),(-163.385,2.19),(-163.374,2.06),(-163.361,2.19),(-163.350,2.06),(-163.338,2.19),(-163.327,2.06),(-163.315,2.19),(-163.304,2.06),(-163.291,2.19),(-163.280,2.06),(-163.268,2.19),(-163.257,2.06),(-163.245,2.19),(-163.234,2.06),(-163.222,2.19),(-163.211,2.06),(-163.198,2.19)]

SERIES = ["30", "25", "20", "15", "10", "5"]
COLORS = ["#ff0000", "#0072bd", "#008000", "#bf40ff", "#d95319", "#000000"]
ALL = [RED_30, BLUE_25, GREEN_20, PURPLE_15, ORANGE_10, BLACK_5]

X_MAJOR = [-166.5, -166.0, -165.5, -165.0, -164.5, -164.0, -163.5]
X_MINOR = [-166.4, -166.3, -166.2, -166.1, -165.9, -165.8, -165.7, -165.6, -165.4, -165.3,
           -165.2, -165.1, -164.9, -164.8, -164.7, -164.6, -164.4, -164.3, -164.2, -164.1,
           -163.9, -163.8, -163.7, -163.6, -163.4, -163.3]
Y_MAJOR_EXP = [0, 3, 6, 9, 12, 15]
Y_MINOR_EXP = [1, 2, 4, 5, 7, 8, 10, 11, 13, 14]

# annotation texts: (text, angle of left edge, log10 of baseline)
NOTES = [
    ("= 30°C", -163.976, 14.21, "#ff0000"),
    ("25°C", -163.878, 12.26, "#0072bd"),
    ("20°C", -163.956, 10.20, "#008000"),
    ("15°C", -164.017, 8.25, "#bf40ff"),
    ("10°C", -164.054, 6.21, "#d95319"),
    ("5°C", -164.048, 4.24, "#000000"),
]
T_NOTE = ("T", -164.106, 14.21)
RAINBOW = [("1", -164.118, 0.49, 31), ("st", -164.044, 0.97, 21), ("rainbow angle", -163.956, 0.49, 31)]
ARROW_ANGLE = -163.785
ARROW_FROM, ARROW_TO, ARROW_HEAD = 2.23, 1.50, 1.38

rows = []
for name, pts in zip(SERIES, ALL):
    for i, (a, e) in enumerate(pts):
        rows.append({"series": name, "angle": a, "I": 10.0 ** e, "i": i})
df = pd.DataFrame(rows)

SERIF = "Liberation Serif, Times New Roman, DejaVu Serif, serif"
AXC = "#262626"
XS = alt.Scale(domain=[-166.5, -163.2], nice=False, zero=False)
YS = alt.Scale(type="log", domain=[1.0, 1e15], nice=False)

main = alt.Chart(df).mark_line(strokeWidth=1.5, clip=True).encode(
    x=alt.X("angle:Q", scale=XS, axis=alt.Axis(
        orient="bottom", values=X_MAJOR, labelExpr="'' + datum.value",
        labelFont=SERIF, labelFontSize=32, labelColor=AXC, labelFlush=False, labelOverlap=False,
        labelBaseline="alphabetic", labelPadding=39, tickSize=8, tickColor=AXC, tickWidth=1.2,
        domainColor=AXC, domainWidth=1.5, grid=True, gridColor="#bdbdbd", gridWidth=1,
        title="Scattering angle θ [deg.]", titleFont=SERIF, titleFontSize=35,
        titleFontWeight="normal", titleColor=AXC, titleX=400, titleY=84,
        titleBaseline="alphabetic", titleAlign="center")),
    y=alt.Y("I:Q", scale=YS, axis=alt.Axis(
        orient="left", values=[10.0 ** k for k in Y_MAJOR_EXP], labels=False,
        tickSize=8, tickColor=AXC, tickWidth=1.2, domainColor=AXC, domainWidth=1.5,
        grid=True, gridColor="#bdbdbd", gridWidth=1,
        title="Scattered intensity", titleFont=SERIF, titleFontSize=35,
        titleFontWeight="normal", titleColor=AXC, titleAngle=270, titleX=-87, titleY=221,
        titleBaseline="alphabetic", titleAlign="center")),
    color=alt.Color("series:N", scale=alt.Scale(domain=SERIES, range=COLORS), legend=None),
    order=alt.Order("i:Q"),
)

def ghost(xaxis, yaxis):
    return alt.Chart(df).transform_filter("datum.i == 0").mark_point(opacity=0).encode(
        x=alt.X("angle:Q", scale=XS, axis=xaxis),
        y=alt.Y("I:Q", scale=YS, axis=yaxis))

minor = ghost(
    alt.Axis(orient="bottom", values=X_MINOR, labels=False, tickSize=4, tickColor=AXC, tickWidth=1,
             domain=False, grid=True, gridColor="#c4c4c4", gridDash=[1.5, 2.5], gridWidth=1, title=None),
    alt.Axis(orient="left", values=[10.0 ** k for k in Y_MINOR_EXP], labels=False, tickSize=4,
             tickColor=AXC, tickWidth=1, domain=False, grid=False, title=None))
top_minor = ghost(
    alt.Axis(orient="top", values=X_MINOR, labels=False, tickSize=4, tickColor=AXC, tickWidth=1,
             domain=False, grid=False, title=None), None)
top_major = ghost(
    alt.Axis(orient="top", values=X_MAJOR, labels=False, tickSize=8, tickColor=AXC, tickWidth=1.2,
             domain=True, domainColor=AXC, domainWidth=1.5, grid=False, title=None), None)

ylab = pd.DataFrame({"v": [10.0 ** k for k in Y_MAJOR_EXP], "exp": [str(k) for k in Y_MAJOR_EXP]})
def ylab_layer(filt, text, size, dx, dy):
    return alt.Chart(ylab).transform_filter(filt).mark_text(
        font=SERIF, fontSize=size, color=AXC, align="right", baseline="alphabetic", dx=dx, dy=dy
    ).encode(x=alt.value(0), y=alt.Y("v:Q", scale=YS, axis=None), text=text)

ylabs = [
    ylab_layer("length(datum.exp) > 1", alt.value("10"), 31, -44, 16.6),
    ylab_layer("length(datum.exp) == 1", alt.value("10"), 31, -32.5, 16.6),
    ylab_layer("true", "exp:N", 23, -18.7, 1.0),
]

def note(txt, a, e, color, size=31, italic=False):
    d = pd.DataFrame({"t": [txt], "x": [a], "y": [10.0 ** e]})
    kw = dict(font=SERIF, fontSize=size, color=color, align="left", baseline="alphabetic")
    if italic:
        kw["fontStyle"] = "italic"
    return alt.Chart(d).mark_text(**kw).encode(
        x=alt.X("x:Q", scale=XS, axis=None), y=alt.Y("y:Q", scale=YS, axis=None), text="t:N")

notes = [note(t, a, e, c) for t, a, e, c in NOTES]
notes.append(note(T_NOTE[0], T_NOTE[1], T_NOTE[2], "#ff0000", italic=True))
notes += [note(t, a, e, "#0000ff", size=s) for t, a, e, s in RAINBOW]

arrow_df = pd.DataFrame({"x": [ARROW_ANGLE], "y": [10.0 ** ARROW_FROM], "y2": [10.0 ** ARROW_TO],
                         "h": [10.0 ** ARROW_HEAD]})
arrow = alt.Chart(arrow_df).mark_rule(color="#0000ff", strokeWidth=1.5).encode(
    x=alt.X("x:Q", scale=XS, axis=None), y=alt.Y("y:Q", scale=YS, axis=None), y2="y2:Q")
head = alt.Chart(arrow_df).mark_point(shape="M-0.73,-1L0.73,-1L0,1Z", size=225, filled=True,
                                      color="#0000ff", opacity=1, strokeWidth=0).encode(
    x=alt.X("x:Q", scale=XS, axis=None), y=alt.Y("h:Q", scale=YS, axis=None))

chart = alt.layer(minor, top_minor, top_major, main, *ylabs, *notes, arrow, head).resolve_axis(
    x="independent", y="independent"
).properties(
    width=803.6, height=461,
    autosize=alt.AutoSizeParams(type="none"),
    padding={"left": 120.7, "top": 25.7, "right": 0.7, "bottom": 91.3},
    background="white",
).configure_view(stroke=None)

chart.save("out.html", embed_options={"renderer": "svg", "actions": False})
